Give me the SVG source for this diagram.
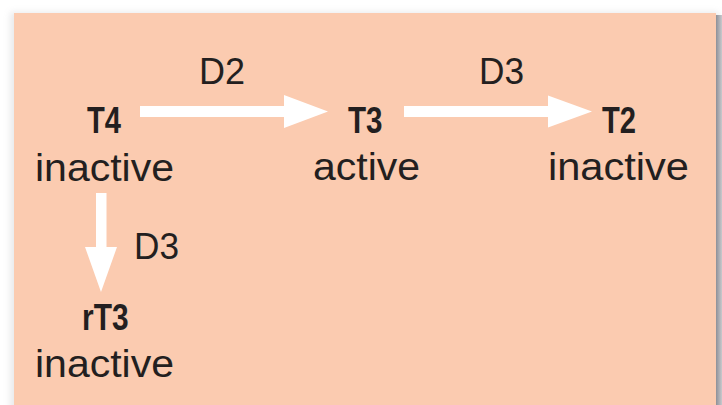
<svg xmlns="http://www.w3.org/2000/svg" width="722" height="405" viewBox="0 0 722 405">
  <defs>
    <filter id="soft" x="-5%" y="-5%" width="110%" height="110%">
      <feGaussianBlur stdDeviation="3"/>
    </filter>
    <linearGradient id="edge" x1="0" y1="0" x2="1" y2="0">
      <stop offset="0" stop-color="#8e9098"/>
      <stop offset="1" stop-color="#c8c9cd"/>
    </linearGradient>
  </defs>
  <style>
    .lbl { font-family: "Liberation Sans", Arial, sans-serif; font-size: 36px; fill: #231f20; }
    .name { font-family: "Liberation Sans", Arial, sans-serif; font-size: 37px; font-weight: bold; fill: #231f20; }
    .state { font-family: "Liberation Sans", Arial, sans-serif; font-size: 38px; fill: #231f20; }
    .arrow { fill: #ffffff; }
  </style>
  <rect width="722" height="405" fill="#ffffff"/>
  <rect x="10" y="12" width="709" height="400" fill="#b8b9be" opacity="0.3" filter="url(#soft)"/>
  <rect x="716" y="15" width="6" height="390" fill="url(#edge)"/>
  <rect x="14" y="13" width="702" height="392" fill="#fbcbb0"/>

  <g id="connectors">
    <polygon class="arrow" points="140,106 284,106 284,95 328,111.5 284,128 284,117 140,117"/>
    <polygon class="arrow" points="404,106 548,106 548,95.5 592,111.5 548,127.5 548,117 404,117"/>
    <polygon class="arrow" points="96,193 106.5,193 106.5,247 117,247 101,292 85,247 96,247"/>
    <text class="lbl" x="199" y="84" textLength="46" lengthAdjust="spacingAndGlyphs">D2</text>
    <text class="lbl" x="479" y="84" textLength="45" lengthAdjust="spacingAndGlyphs">D3</text>
    <text class="lbl" x="134" y="259" textLength="45" lengthAdjust="spacingAndGlyphs">D3</text>
  </g>

  <g id="T4">
    <text class="name" x="87" y="133" textLength="34" lengthAdjust="spacingAndGlyphs">T4</text>
    <text class="state" x="35" y="181" textLength="139" lengthAdjust="spacingAndGlyphs">inactive</text>
  </g>
  <g id="T3">
    <text class="name" x="348" y="133" textLength="34.5" lengthAdjust="spacingAndGlyphs">T3</text>
    <text class="state" x="313" y="180" textLength="107" lengthAdjust="spacingAndGlyphs">active</text>
  </g>
  <g id="T2">
    <text class="name" x="602" y="133" textLength="34" lengthAdjust="spacingAndGlyphs">T2</text>
    <text class="state" x="548" y="180" textLength="141" lengthAdjust="spacingAndGlyphs">inactive</text>
  </g>
  <g id="rT3">
    <text class="name" x="82" y="330" textLength="46.5" lengthAdjust="spacingAndGlyphs">rT3</text>
    <text class="state" x="35" y="377" textLength="139" lengthAdjust="spacingAndGlyphs">inactive</text>
  </g>
</svg>
